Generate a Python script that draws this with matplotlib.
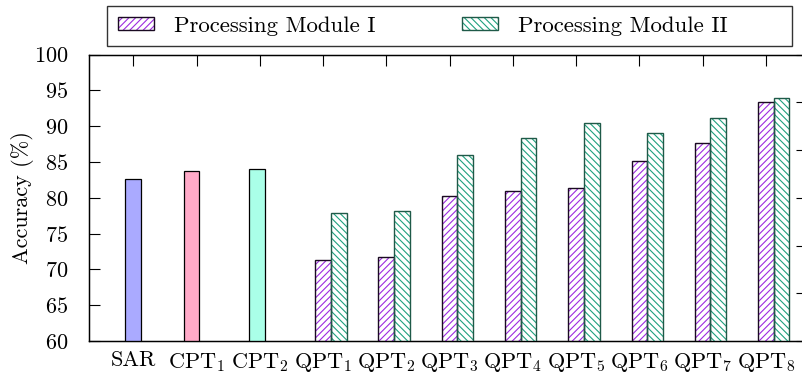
import matplotlib
matplotlib.use("Agg")
import matplotlib.pyplot as plt
import numpy as np
from matplotlib.patches import Patch, Rectangle
from matplotlib.legend_handler import HandlerTuple

plt.rcParams['font.family'] = ['cmr10', 'DejaVu Serif']
plt.rcParams['mathtext.fontset'] = 'cm'
plt.rcParams['axes.unicode_minus'] = False
plt.rcParams['axes.formatter.use_mathtext'] = True
plt.rcParams['hatch.linewidth'] = 0.8

# ---- data ----
categories = ['SAR', r'CPT$_1$', r'CPT$_2$', r'QPT$_1$', r'QPT$_2$', r'QPT$_3$',
              r'QPT$_4$', r'QPT$_5$', r'QPT$_6$', r'QPT$_7$', r'QPT$_8$']
baseline_names = ['SAR', 'CPT1', 'CPT2']
baseline_values = [82.6, 83.8, 83.95]
module1_values = [71.3, 71.7, 80.3, 80.9, 81.3, 85.1, 87.6, 93.3]
module2_values = [77.9, 78.1, 85.9, 88.4, 90.4, 89.0, 91.1, 93.9]
series_labels = ['Processing Module I', 'Processing Module II']
yticks = [60, 65, 70, 75, 80, 85, 90, 95, 100]

# ---- styles ----
baseline_colors = ['#AAAAFF', '#FFAAC8', '#AAFFE8']
baseline_shift = [0.0, -0.08, -0.045]
m1_hatch_color = '#9D2BE0'
m1_edge = '#1a0a22'
m2_hatch_color = '#1FA07E'
m2_edge = '#1F5A48'
bw = 0.248
fs = 16.0
lfs = 16.4

fig = plt.figure(figsize=(8.03, 3.74), dpi=100)
ax = fig.add_axes([89 / 803, 33 / 374, (807 - 89) / 803, (341 - 54.5) / 374])

x = np.arange(len(categories))

# baselines
for i, (v, c, s) in enumerate(zip(baseline_values, baseline_colors, baseline_shift)):
    ax.bar(x[i] + s, v - 60, bw, bottom=60, color=c, edgecolor='black',
           linewidth=0.9, zorder=3)

xq = x[3:]
# module I
ax.bar(xq, np.array(module1_values) - 60, bw, bottom=60, color='white',
       edgecolor=m1_hatch_color, hatch='/////', linewidth=0, zorder=3)
ax.bar(xq, np.array(module1_values) - 60, bw, bottom=60, fill=False,
       edgecolor=m1_edge, linewidth=1.0, zorder=4)
# module II
ax.bar(xq + bw, np.array(module2_values) - 60, bw, bottom=60, color='white',
       edgecolor=m2_hatch_color, hatch='\\\\\\\\\\', linewidth=0, zorder=3)
ax.bar(xq + bw, np.array(module2_values) - 60, bw, bottom=60, fill=False,
       edgecolor=m2_edge, linewidth=1.0, zorder=4)

ax.set_xlim(-0.70, 10.65)
ax.set_ylim(60, 100)
ax.set_yticks(yticks)
ax.set_xticks(x)
ax.set_xticklabels(categories, fontsize=fs)
ax.tick_params(axis='y', direction='in', length=8, width=0.8, labelsize=fs,
               right=False, pad=15)
ax.tick_params(axis='x', direction='in', length=8, width=0.8, top=True,
               bottom=False, labelsize=fs, pad=7)
ax.set_ylabel('Accuracy (%)', fontsize=fs, labelpad=0)
for sp in ax.spines.values():
    sp.set_linewidth(1.0)

# secondary right axis (labels outside the picture)
ax2 = ax.twinx()
ax2.set_ylim(0, 6)
ax2.set_yticks(np.arange(0, 7))
ax2.tick_params(axis='y', direction='in', length=8, width=0.8, labelright=False)
ax2.spines['right'].set_linewidth(1.0)

# legend
px = lfs * 100 / 72.0
h1 = (Patch(facecolor='white', edgecolor=m1_hatch_color, hatch='/////', linewidth=0),
      Patch(facecolor='none', edgecolor=m1_edge, linewidth=1.0))
h2 = (Patch(facecolor='white', edgecolor=m2_hatch_color, hatch='\\\\\\\\\\', linewidth=0),
      Patch(facecolor='none', edgecolor=m2_edge, linewidth=1.0))
leg = fig.legend([h1, h2], series_labels, handler_map={tuple: HandlerTuple(ndivide=1, pad=0)},
                 ncol=2, loc='center left', bbox_to_anchor=(107 / 803, 1 - 26 / 374),
                 bbox_transform=fig.transFigure, fontsize=lfs, frameon=False,
                 handlelength=36 / px, handleheight=0.5, handletextpad=20 / px,
                 columnspacing=86 / px, borderpad=11 / px, borderaxespad=0)
fig.add_artist(Rectangle((107 / 803, 1 - 46 / 374), (792 - 107) / 803, 40 / 374,
                         transform=fig.transFigure, fill=False, edgecolor='#333333',
                         linewidth=1.0))

fig.savefig('out.png', dpi=100)
